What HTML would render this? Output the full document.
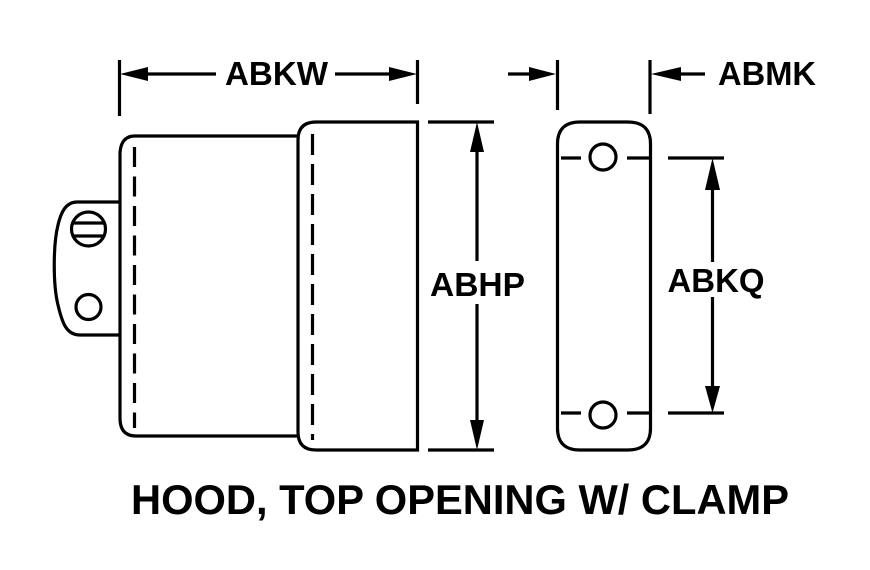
<!DOCTYPE html>
<html>
<head>
<meta charset="utf-8">
<style>
html,body{margin:0;padding:0;background:#fff;width:870px;height:570px;overflow:hidden}
svg{display:block}
text{font-family:"Liberation Sans",sans-serif;font-weight:bold;fill:#000}
</style>
</head>
<body>
<svg width="870" height="570" viewBox="0 0 870 570" xmlns="http://www.w3.org/2000/svg">
<g fill="none" stroke="#000" stroke-width="3.2">
  <!-- left body -->
  <path d="M298 136 H135 Q121 136 120 153 V418 Q120 436 136 436 H298"/>
  <path d="M417.5 122 H316 Q298 122 298 140 V432 Q298 450 316 450 H417.5 Z"/>
  <path d="M134.5 147 V428" stroke-dasharray="20 9.5"/>
  <path d="M312.5 134 V440" stroke-dasharray="21 9"/>
  <!-- clamp -->
  <path d="M120 202 H77 C66 202 61 212 58 225 C53 245 53 285 58 305 C62 322 66 335 80 335 H120"/>
  <circle cx="88.5" cy="229" r="17"/>
  <path d="M73 223 H104 M73 236 H104"/>
  <circle cx="88.5" cy="307" r="12.5"/>
  <!-- right plate -->
  <path d="M557.5 145 Q557 122 580 122 H628 Q651 122 650.5 145 V427 Q651 450 628 450 H580 Q557 450 557.5 427 Z"/>
  <circle cx="603" cy="157" r="13"/>
  <circle cx="603" cy="415" r="13"/>
  <path d="M561 158 H581 M627 158 H650 M561 413 H581 M627 413 H650"/>
  <!-- extension lines -->
  <path d="M119.5 60 V116 M417.5 60 V104 M557.5 60 V110 M650 60 V114"/>
  <path d="M428 122 H494 M428 450 H494 M668 158 H724 M668 413 H724"/>
  <!-- dimension lines -->
  <path d="M145 74 H216 M335 74 H392 M508 74 H532 M678 74 H705"/>
  <path d="M477 150 V261 M477 304 V422 M712.5 188 V262 M712.5 297 V388"/>
</g>
<g fill="#000">
  <polygon points="120,74 148,67 148,81"/>
  <polygon points="417,74 389,67 389,81"/>
  <polygon points="556,74 529,67 529,81"/>
  <polygon points="651,74 681,67 681,81"/>
  <polygon points="477,122 470,152 484,152"/>
  <polygon points="477,450 470,420 484,420"/>
  <polygon points="712.5,158 705,190 720,190"/>
  <polygon points="712.5,413 705,386 720,386"/>
</g>
<text x="225" y="85" font-size="33" textLength="103" lengthAdjust="spacingAndGlyphs">ABKW</text>
<text x="718" y="85" font-size="33" textLength="98" lengthAdjust="spacingAndGlyphs">ABMK</text>
<text x="430" y="296" font-size="33.5" textLength="95" lengthAdjust="spacingAndGlyphs">ABHP</text>
<text x="667.5" y="292" font-size="33" textLength="97" lengthAdjust="spacingAndGlyphs">ABKQ</text>
<text x="131" y="514" font-size="41.5" textLength="658" lengthAdjust="spacingAndGlyphs">HOOD, TOP OPENING W/ CLAMP</text>
</svg>
</body>
</html>
